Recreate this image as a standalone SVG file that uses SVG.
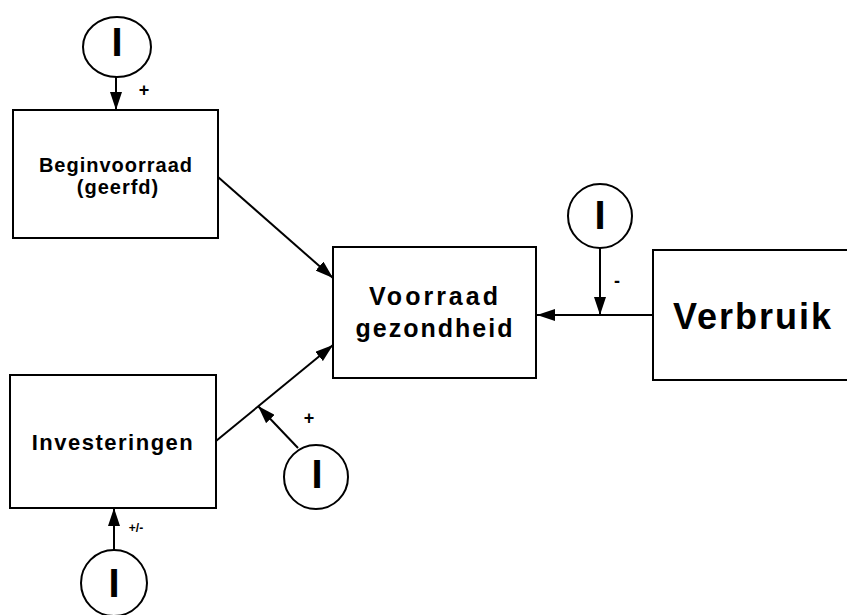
<svg xmlns="http://www.w3.org/2000/svg" width="847" height="615" viewBox="0 0 847 615">
<style>
.box{fill:#fff;stroke:#000;stroke-width:2}
.circ{fill:#fff;stroke:#000;stroke-width:2}
.con{fill:none;stroke:#000;stroke-width:2}
.t{font-family:"Liberation Sans",Arial,sans-serif;font-weight:bold;fill:#000;text-anchor:middle}
.bar{font-family:"Liberation Sans",Arial,sans-serif;font-weight:bold;fill:#000;text-anchor:middle;font-size:40px}
.sign{font-family:"Liberation Sans",Arial,sans-serif;font-weight:bold;fill:#000;text-anchor:middle;font-size:18px}
</style>
<defs>
<marker id="ah" markerUnits="userSpaceOnUse" markerWidth="18" markerHeight="12" viewBox="0 0 18 12" refX="18" refY="6" orient="auto">
<path d="M0,0 L18,6 L0,12 Z" fill="#000"/>
</marker>
</defs>
<rect width="847" height="615" fill="#fff"/>
<g id="connectors">
<line class="con" x1="116" y1="77" x2="116" y2="110" marker-end="url(#ah)"/>
<line class="con" x1="218" y1="177" x2="333" y2="278" marker-end="url(#ah)"/>
<line class="con" x1="216" y1="441" x2="333" y2="345" marker-end="url(#ah)"/>
<line class="con" x1="298" y1="448" x2="258" y2="406" marker-end="url(#ah)"/>
<line class="con" x1="114" y1="550" x2="114" y2="508" marker-end="url(#ah)"/>
<line class="con" x1="600" y1="248" x2="600" y2="315" marker-end="url(#ah)"/>
<line class="con" x1="653" y1="315" x2="537" y2="315" marker-end="url(#ah)"/>
<text class="sign" x="144" y="96">+</text>
<text class="sign" x="309" y="424">+</text>
<text class="sign" x="617" y="287">-</text>
<text class="sign" x="136" y="532" style="font-size:12px">+/-</text>
</g>
<g id="beginvoorraad">
<rect class="box" x="13" y="110" width="205" height="128"/>
<text class="t" x="116" y="172" font-size="20" letter-spacing="1">Beginvoorraad</text>
<text class="t" x="118" y="194" font-size="20" letter-spacing="1">(geerfd)</text>
</g>
<g id="investeringen">
<rect class="box" x="10" y="375" width="206" height="133"/>
<text class="t" x="113" y="450" font-size="22" letter-spacing="1.5">Investeringen</text>
</g>
<g id="voorraad">
<rect class="box" x="333" y="247" width="203" height="131"/>
<text class="t" x="435" y="305" font-size="25" letter-spacing="3">Voorraad</text>
<text class="t" x="435" y="337" font-size="25" letter-spacing="2">gezondheid</text>
</g>
<g id="verbruik">
<path class="box" d="M860,250 L653,250 L653,380 L860,380"/>
<text class="t" x="753" y="329" font-size="36" letter-spacing="2">Verbruik</text>
</g>
<g id="i-top">
<ellipse class="circ" cx="117" cy="47" rx="34" ry="30"/>
<text class="bar" x="117" y="56">I</text>
</g>
<g id="i-right">
<circle class="circ" cx="600" cy="216" r="32"/>
<text class="bar" x="600" y="229">I</text>
</g>
<g id="i-mid">
<circle class="circ" cx="316" cy="477" r="32"/>
<text class="bar" x="317" y="488">I</text>
</g>
<g id="i-bottom">
<circle class="circ" cx="114" cy="583" r="33"/>
<text class="bar" x="114" y="597">I</text>
</g>
</svg>
